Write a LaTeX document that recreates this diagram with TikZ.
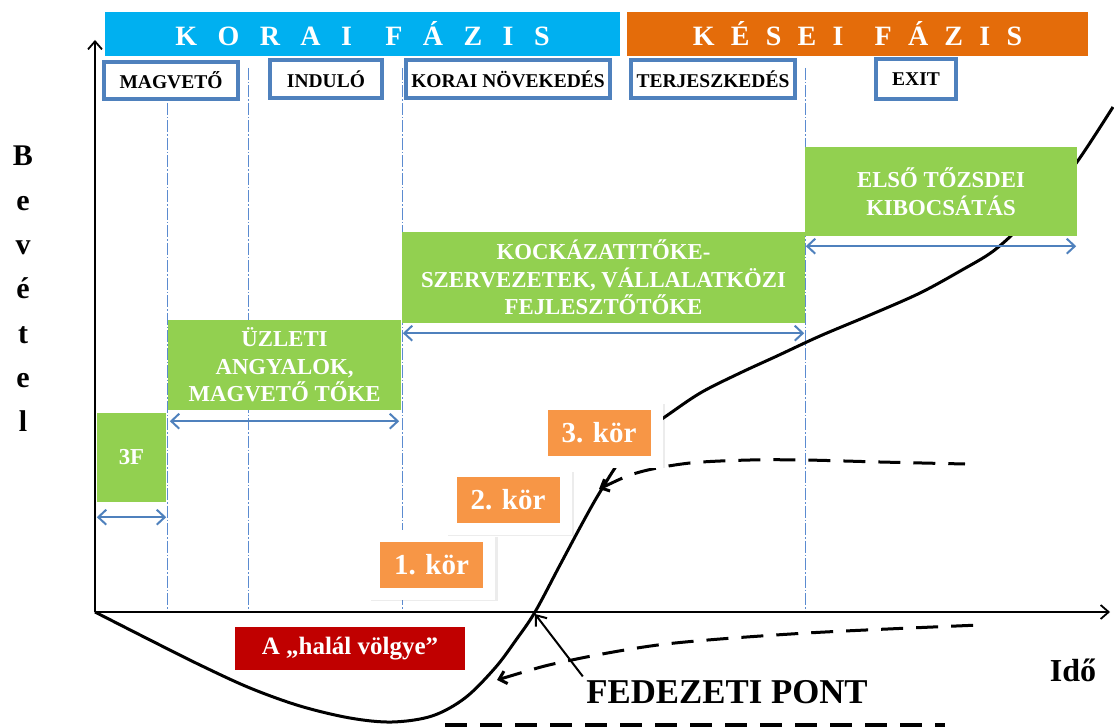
\documentclass[tikz,border=0pt]{standalone}
\usepackage{fontspec}
\setmainfont{Liberation Serif}
\usetikzlibrary{positioning,arrows.meta,shadows}
\definecolor{koraiblue}{HTML}{00B0F0}
\definecolor{keseiorange}{HTML}{E46C0A}
\definecolor{stageblue}{HTML}{4F81BD}
\definecolor{fundgreen}{HTML}{92D050}
\definecolor{korbox}{HTML}{F79646}
\definecolor{deathred}{HTML}{C00000}
\definecolor{gridblue}{HTML}{5B8BD0}
\tikzset{
    phase/.style={rectangle, inner sep=0pt, minimum height=44pt, text=white, font={\fontsize{28}{32}\selectfont\bfseries\addfontfeature{LetterSpace=#1}}},
    stage/.style={rectangle, draw=stageblue, fill=white, line width=4pt, inner sep=0pt, minimum height=38pt, font=\fontsize{19.5}{22}\selectfont\bfseries},
    fund/.style={rectangle, fill=fundgreen, text=white, inner sep=0pt, align=center, font=\fontsize{22.8}{27.5}\selectfont\bfseries},
    korstep/.style={rectangle, fill=korbox, draw=white, line width=12pt, inner sep=0pt, minimum width=115pt, minimum height=58pt, text=white, font=\fontsize{29}{32}\selectfont\bfseries, drop shadow={shadow xshift=2.5pt, shadow yshift=-3.5pt, shadow scale=1.1, fill=black!60, opacity=0.12}},
    fundspan/.style={draw=stageblue, line width=2pt, {Straight Barb[length=8pt,width=15pt]}-{Straight Barb[length=8pt,width=15pt]}},
    stagegrid/.style={draw=gridblue, line width=0.9pt, dash pattern=on 12pt off 2pt on 1.5pt off 2pt},
    axis/.style={line width=1.8pt, -{Straight Barb[length=8pt,width=14pt]}},
    revenue/.style={line width=3pt},
    scenario/.style={line width=3pt, dash pattern=on 22pt off 13pt}
}
\begin{document}
\begin{tikzpicture}[x=1pt, y=-1pt]
    \useasboundingbox (0,0) rectangle (1114,727);

    % stage borders
    \foreach \gx in {167,248,402,805}
        \draw[stagegrid] (\gx,68) -- (\gx,612);

    % axes
    \coordinate (origin) at (95,612);
    \coordinate (ytop) at (95,40);
    \coordinate (xend) at (1110,612);
    \draw[axis] (origin) -- (ytop);
    \draw[axis] (origin) -- (xend);

    % revenue curve and scenarios
    \draw[revenue] plot[smooth, tension=0.55] coordinates {(95,612) (150,640) (200,665) (250,688) (300,706) (350,718) (392,722) (432,716) (465,698) (495,668) (516,640) (535,612) (560,565) (583,522) (600,492) (622,458) (648,430) (672,412) (702,392) (740,373) (777,356) (820,336) (870,315) (920,293) (962,270) (992,252) (1017,230) (1047,198) (1077,162) (1113,107)};
    \draw[scenario, {Straight Barb[length=7pt,width=13pt]}-] plot[smooth] coordinates {(599,489) (640,472) (690,463) (750,460) (805,460) (880,462) (965,464)};
    \draw[scenario, {Straight Barb[length=7pt,width=13pt]}-] plot[smooth] coordinates {(497,680) (567,661) (666,644) (807,633) (980,625)};
    \draw[scenario, line width=4pt] (445,725) -- (945,725);

    % phases
    \node[phase=73, fill=koraiblue, minimum width=515pt] (korai) at (362.5,34) {KORAI\hspace{6pt} FÁZIS};
    \node[phase=58, fill=keseiorange, minimum width=461pt] (kesei) at (857.5,34) {KÉSEI\hspace{8pt} FÁZIS};

    % stages
    \node[stage, minimum width=134pt, minimum height=37pt] (magveto) at (171,80.5) {MAGVETŐ};
    \node[stage, minimum width=112pt] (indulo) at (326,79) {INDULÓ};
    \node[stage, minimum width=204pt] (novekedes) at (508,79) {KORAI NÖVEKEDÉS};
    \node[stage, minimum width=164pt] (terjeszkedes) at (713,79) {TERJESZKEDÉS};
    \node[stage, minimum width=80pt, minimum height=40pt] (exit) at (916,79.5) {EXIT};

    % funding sources
    \node[fund, minimum width=69pt, minimum height=89pt] (threef) at (131.5,457.5) {3F};
    \node[fund, minimum width=233pt, minimum height=90pt] (angels) at (284.5,365) {ÜZLETI\\ANGYALOK,\\MAGVETŐ TŐKE};
    \node[fund, minimum width=403pt, minimum height=91pt] (venture) at (603.5,277.5) {KOCKÁZATITŐKE-\\SZERVEZETEK, VÁLLALATKÖZI\\FEJLESZTŐTŐKE};
    \node[fund, minimum width=272pt, minimum height=89pt] (ipo) at (941,191.5) {ELSŐ TŐZSDEI\\KIBOCSÁTÁS};

    \draw[fundspan] ([yshift=-15pt]threef.south west) -- ([yshift=-15pt]threef.south east);
    \draw[fundspan] ([xshift=2pt, yshift=-11pt]angels.south west) -- ([xshift=-2pt, yshift=-11pt]angels.south east);
    \draw[fundspan] ([xshift=1pt, yshift=-10pt]venture.south west) -- ([xshift=-1pt, yshift=-10pt]venture.south east);
    \draw[fundspan] ([xshift=1pt, yshift=-10pt]ipo.south west) -- ([xshift=-1pt, yshift=-10pt]ipo.south east);

    % rounds
    \node[korstep] (kor1) at (431.5,565) {1. kör};
    \node[korstep] (kor2) at (508,500) {2. kör};
    \node[korstep] (kor3) at (599,432.5) {3. kör};

    \node[rectangle, fill=deathred, minimum width=230pt, minimum height=43pt, text=white, font=\fontsize{25}{28}\selectfont\bfseries] (valley) at (350,648.5) {A „halál völgye”};

    % axis labels
    \node[font=\fontsize{30}{44.3}\selectfont\bfseries, align=center] (bevetel) at (23,289) {B\\e\\v\\é\\t\\e\\l};
    \node[font=\fontsize{32}{36}\selectfont\bfseries, anchor=base] (ido) at (1073,681) {Idő};
    \node[font=\fontsize{34.8}{40}\selectfont\bfseries, anchor=base] (fedezeti) at (727,703) {FEDEZETI PONT};

    \coordinate (breakeven) at (535,614);
    \draw[line width=2pt, -{Straight Barb[length=9pt,width=14pt]}] (fedezeti.north west) -- (breakeven);
\end{tikzpicture}
\end{document}
